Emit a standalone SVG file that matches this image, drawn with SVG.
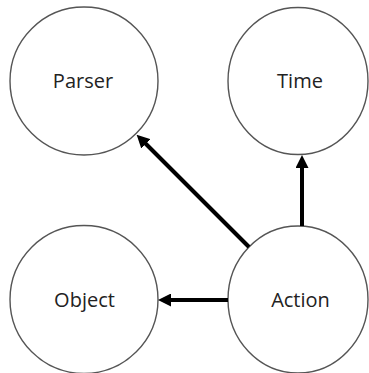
<svg xmlns="http://www.w3.org/2000/svg" width="369" height="373" viewBox="0 0 369 373">
<style>
.node{fill:#fff;stroke:#555;stroke-width:1.4}
.lbl{font-family:"Open Sans","Liberation Sans",sans-serif;font-size:20px;fill:#222;text-anchor:middle}
.edge{stroke:#000;stroke-width:4;fill:none}
</style>
<defs>
<marker id="arr" markerUnits="userSpaceOnUse" markerWidth="13" markerHeight="13" refX="4" refY="6.5" orient="auto">
<path d="M0,0 L13,6.5 L0,13 z" fill="#000"/>
</marker>
</defs>
<rect width="369" height="373" fill="#fff"/>
<g id="parser"><ellipse class="node" cx="84" cy="81" rx="74" ry="74"/><text class="lbl" x="83" y="88">Parser</text></g>
<g id="time"><ellipse class="node" cx="298" cy="81" rx="70" ry="73.5"/><text class="lbl" x="300" y="88">Time</text></g>
<g id="object"><ellipse class="node" cx="84" cy="299.5" rx="74" ry="74"/><text class="lbl" x="84.5" y="307">Object</text></g>
<g id="action"><ellipse class="node" cx="298" cy="299.5" rx="70" ry="73.5"/><text class="lbl" x="300.5" y="307">Action</text></g>
<g id="connectors">
<line class="edge" x1="302" y1="226" x2="302" y2="164" marker-end="url(#arr)"/>
<line class="edge" x1="228" y1="300" x2="167" y2="300" marker-end="url(#arr)"/>
<line class="edge" x1="249" y1="247" x2="143" y2="141" marker-end="url(#arr)"/>
</g>
</svg>
